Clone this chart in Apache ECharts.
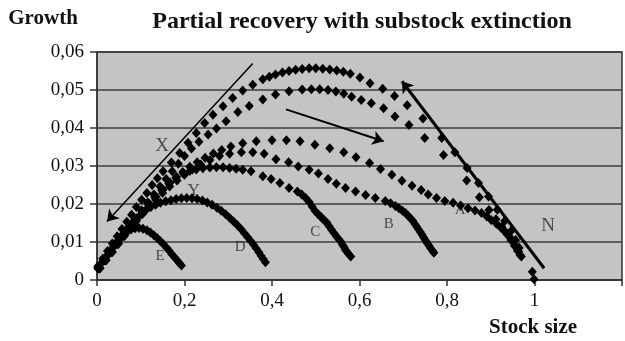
<!DOCTYPE html>
<html>
<head>
<meta charset="utf-8">
<script src="https://cdn.jsdelivr.net/npm/echarts@6/dist/echarts.min.js"></script>
<style>
  html, body { margin: 0; padding: 0; background: #fff; }
  #chart { width: 625px; height: 341px; }
</style>
</head>
<body>
<div id="chart"></div>
<script>
// growth curves, [stock size, growth]
const curveTop = [[0.002,0.0036],[0.013,0.0056],[0.024,0.0076],[0.035,0.0096],[0.046,0.0115],[0.057,0.0134],[0.068,0.0153],[0.079,0.0172],[0.09,0.0192],[0.102,0.0211],[0.114,0.0229],[0.126,0.025],[0.138,0.0268],[0.151,0.0286],[0.17,0.0309],[0.189,0.0334],[0.208,0.0361],[0.227,0.0387],[0.246,0.0413],[0.265,0.0435],[0.288,0.0457],[0.31,0.0479],[0.333,0.0499],[0.356,0.0514],[0.379,0.0528],[0.394,0.0535],[0.408,0.0541],[0.424,0.0546],[0.439,0.055],[0.454,0.0553],[0.469,0.0555],[0.485,0.0557],[0.5,0.0557],[0.516,0.0556],[0.532,0.0554],[0.548,0.0551],[0.563,0.0548],[0.579,0.0543],[0.601,0.0533],[0.624,0.0518],[0.653,0.0503],[0.68,0.0484],[0.709,0.046],[0.745,0.0425],[0.788,0.0374],[0.818,0.0336],[0.846,0.0295],[0.872,0.0255],[0.895,0.022],[0.915,0.0185],[0.932,0.0155],[0.946,0.0128],[0.957,0.0105],[0.965,0.0085],[0.995,0.0022],[0.999,0.0002]];
const curveSecond = [[0.004,0.0031],[0.018,0.0052],[0.032,0.0074],[0.046,0.0096],[0.06,0.0118],[0.074,0.014],[0.088,0.0161],[0.102,0.0183],[0.116,0.0204],[0.13,0.0225],[0.144,0.0246],[0.158,0.0266],[0.172,0.0286],[0.186,0.0306],[0.2,0.0326],[0.216,0.0346],[0.233,0.0364],[0.254,0.0383],[0.273,0.0399],[0.295,0.0418],[0.322,0.0442],[0.348,0.0458],[0.379,0.0475],[0.408,0.0488],[0.439,0.0497],[0.469,0.0501],[0.49,0.0502],[0.509,0.0502],[0.528,0.05],[0.546,0.0496],[0.564,0.049],[0.582,0.0482],[0.604,0.0474],[0.627,0.0465],[0.655,0.0452],[0.681,0.043],[0.713,0.0408],[0.749,0.0374],[0.792,0.0329],[0.845,0.0262],[0.874,0.0218],[0.896,0.0184],[0.912,0.016],[0.925,0.014],[0.936,0.0122],[0.946,0.0105],[0.954,0.009],[0.961,0.0077],[0.967,0.0066]];
const curveA = [[0.005,0.0031],[0.019,0.0053],[0.033,0.0075],[0.047,0.0097],[0.061,0.0119],[0.075,0.014],[0.089,0.016],[0.103,0.018],[0.117,0.0199],[0.132,0.0218],[0.148,0.0236],[0.164,0.0253],[0.18,0.0269],[0.196,0.0284],[0.212,0.0298],[0.229,0.031],[0.247,0.0322],[0.266,0.0333],[0.285,0.0342],[0.306,0.0351],[0.333,0.036],[0.364,0.0365],[0.4,0.0368],[0.433,0.0368],[0.464,0.0365],[0.498,0.0356],[0.532,0.0347],[0.564,0.0336],[0.592,0.0323],[0.623,0.0308],[0.648,0.0292],[0.674,0.0277],[0.697,0.0261],[0.72,0.0248],[0.741,0.0237],[0.757,0.0225],[0.776,0.0216],[0.795,0.0208],[0.814,0.0203],[0.831,0.0196],[0.848,0.0189],[0.864,0.0183],[0.879,0.0176],[0.891,0.0167],[0.901,0.0158],[0.913,0.0148],[0.924,0.0137],[0.934,0.0126],[0.943,0.0114],[0.951,0.0101],[0.958,0.0088],[0.964,0.0075],[0.97,0.0062]];
const curveB = [[0.006,0.0031],[0.02,0.0052],[0.034,0.0073],[0.048,0.0094],[0.062,0.0115],[0.076,0.0135],[0.09,0.0155],[0.104,0.0174],[0.119,0.0193],[0.134,0.0211],[0.15,0.0229],[0.166,0.0246],[0.183,0.0262],[0.2,0.0277],[0.218,0.0291],[0.237,0.0304],[0.258,0.0316],[0.28,0.0326],[0.303,0.0332],[0.33,0.0336],[0.356,0.0336],[0.382,0.0332],[0.409,0.0318],[0.438,0.031],[0.46,0.0299],[0.485,0.029],[0.506,0.028],[0.528,0.0266],[0.547,0.0253],[0.568,0.0242],[0.591,0.0233],[0.614,0.0224],[0.636,0.0216],[0.659,0.0208],[0.671,0.0202],[0.682,0.0195],[0.69,0.0189],[0.698,0.0182],[0.705,0.0176],[0.711,0.0169],[0.717,0.0162],[0.722,0.0155],[0.727,0.0147],[0.731,0.014],[0.735,0.0133],[0.739,0.0126],[0.743,0.0119],[0.747,0.0111],[0.751,0.0104],[0.755,0.0097],[0.759,0.009],[0.763,0.0083],[0.767,0.0077],[0.77,0.0072]];
const curveC = [[0.007,0.0031],[0.021,0.0052],[0.035,0.0074],[0.049,0.0096],[0.063,0.0118],[0.077,0.0139],[0.091,0.016],[0.105,0.018],[0.12,0.02],[0.135,0.0219],[0.151,0.0238],[0.167,0.0256],[0.182,0.0271],[0.197,0.0281],[0.212,0.0287],[0.227,0.0291],[0.242,0.0294],[0.258,0.0296],[0.273,0.0297],[0.288,0.0297],[0.303,0.0295],[0.318,0.0293],[0.333,0.029],[0.352,0.0286],[0.379,0.0273],[0.398,0.0266],[0.418,0.0255],[0.439,0.0242],[0.458,0.0233],[0.468,0.0225],[0.477,0.0216],[0.485,0.0205],[0.492,0.0193],[0.499,0.0181],[0.505,0.0174],[0.511,0.0167],[0.516,0.0161],[0.521,0.0155],[0.526,0.015],[0.531,0.0141],[0.536,0.0132],[0.542,0.0123],[0.547,0.0115],[0.552,0.0108],[0.557,0.0101],[0.561,0.0093],[0.565,0.0086],[0.568,0.0079],[0.572,0.0073],[0.576,0.0067],[0.58,0.0062]];
const curveD = [[0.002,0.003],[0.013,0.0048],[0.024,0.0066],[0.035,0.0084],[0.046,0.0101],[0.057,0.0118],[0.068,0.0134],[0.079,0.0149],[0.09,0.0162],[0.101,0.0174],[0.112,0.0184],[0.123,0.0192],[0.134,0.0198],[0.145,0.0203],[0.157,0.0207],[0.169,0.021],[0.181,0.0213],[0.193,0.0215],[0.205,0.0216],[0.217,0.0215],[0.229,0.0213],[0.241,0.0209],[0.252,0.0204],[0.263,0.0198],[0.274,0.019],[0.284,0.0182],[0.294,0.0173],[0.303,0.0164],[0.312,0.0154],[0.321,0.0144],[0.329,0.0134],[0.337,0.0123],[0.344,0.0113],[0.351,0.0103],[0.358,0.0093],[0.364,0.0083],[0.37,0.0073],[0.375,0.0064],[0.38,0.0055],[0.385,0.0047]];
const curveE = [[0.002,0.0032],[0.012,0.0047],[0.022,0.0062],[0.032,0.0077],[0.042,0.0092],[0.051,0.0106],[0.06,0.0118],[0.069,0.0127],[0.078,0.0133],[0.087,0.0136],[0.096,0.0137],[0.105,0.0135],[0.114,0.0131],[0.122,0.0125],[0.13,0.0118],[0.138,0.011],[0.145,0.0102],[0.152,0.0094],[0.159,0.0085],[0.165,0.0077],[0.171,0.0068],[0.177,0.006],[0.183,0.0052],[0.188,0.0045],[0.193,0.0038]];

// annotations: arrows [from, to] and letters [text, x, y]
const arrows = [
  [[0.356, 0.057], [0.023, 0.0154]],
  [[0.432, 0.0449], [0.655, 0.0365]],
  [[1.022, 0.0031], [0.697, 0.0523]]
];
const letters = [['X', 0.149, 0.0353], ['Y', 0.221, 0.0236], ['E', 0.144, 0.0063], ['D', 0.327, 0.0087],
  ['C', 0.499, 0.0125], ['B', 0.667, 0.0146], ['A', 0.83, 0.0185], ['N', 1.031, 0.0142]];

const xTicks = [0, 0.2, 0.4, 0.6, 0.8, 1];

const serif = '"Liberation Serif", "DejaVu Serif", serif';
const letterSize = { X: 19, Y: 17, N: 19 };
const arrowWidth = [1.5, 2, 3];

const chart = echarts.init(document.getElementById('chart'), null, { renderer: 'canvas' });

const curveSeries = [curveTop, curveSecond, curveA, curveB, curveC, curveD, curveE].map(pts => ({
  type: 'scatter',
  data: pts,
  symbol: 'diamond',
  symbolSize: [9, 10],
  itemStyle: { color: '#000', opacity: 1 },
  z: 3,
  silent: true
}));

chart.setOption({
  animation: false,
  grid: {
    left: 97, right: 1, top: 52, bottom: 61,
    show: true,
    backgroundColor: '#c4c4c4',
    borderColor: '#333',
    borderWidth: 1.5
  },
  xAxis: {
    type: 'value',
    min: 0, max: 1.2, interval: 0.2,
    axisLine: { show: true, onZero: false, lineStyle: { color: '#333', width: 1.5 } },
    axisTick: { show: true, length: 6, lineStyle: { color: '#333', width: 1.5 } },
    splitLine: { show: false },
    axisLabel: {
      fontFamily: serif, fontSize: 19, color: '#111', margin: 12,
      formatter: v => {
        const t = xTicks.find(k => Math.abs(k - v) < 1e-9);
        return t === undefined ? '' : String(t).replace('.', ',');
      }
    }
  },
  yAxis: {
    type: 'value',
    min: 0, max: 0.06, interval: 0.01,
    axisLine: { show: true, lineStyle: { color: '#333', width: 1.5 } },
    axisTick: { show: true, length: 7, lineStyle: { color: '#333', width: 1.5 } },
    splitLine: { show: true, lineStyle: { color: '#3c3c3c', width: 1.5 } },
    axisLabel: {
      fontFamily: serif, fontSize: 19, color: '#111', margin: 13,
      formatter: v => v === 0 ? '0' : v.toFixed(2).replace('.', ',')
    }
  },
  graphic: [
    { type: 'text', x: 362, y: 22, style: { text: 'Partial recovery with substock extinction', font: 'bold 24px ' + serif, fill: '#111', align: 'center', verticalAlign: 'middle', textAlign: 'center', textVerticalAlign: 'middle' } },
    { type: 'text', x: 43, y: 19, style: { text: 'Growth', font: 'bold 21px ' + serif, fill: '#111', align: 'center', verticalAlign: 'middle', textAlign: 'center', textVerticalAlign: 'middle' } },
    { type: 'text', x: 533, y: 328, style: { text: 'Stock size', font: 'bold 21px ' + serif, fill: '#111', align: 'center', verticalAlign: 'middle', textAlign: 'center', textVerticalAlign: 'middle' } }
  ],
  series: [
    {
      type: 'scatter',
      data: letters.map(l => ({ name: l[0], value: [l[1], l[2]] })),
      symbolSize: 1,
      itemStyle: { color: 'rgba(0,0,0,0)' },
      z: 2,
      silent: true,
      label: {
        show: true,
        position: 'inside',
        formatter: p => p.name,
        fontFamily: serif,
        color: '#2a2a2a',
        fontSize: 15
      },
      labelLayout: p => ({ fontSize: letterSize[letters[p.dataIndex][0]] || 15 })
    },
    ...curveSeries,
    {
      type: 'lines',
      coordinateSystem: 'cartesian2d',
      data: arrows.map((a, i) => ({ coords: a, lineStyle: { width: arrowWidth[i] } })),
      symbol: ['none', 'arrow'],
      symbolSize: 11,
      lineStyle: { color: '#000', opacity: 1, curveness: 0 },
      z: 5,
      silent: true
    }
  ]
});
</script>
</body>
</html>
